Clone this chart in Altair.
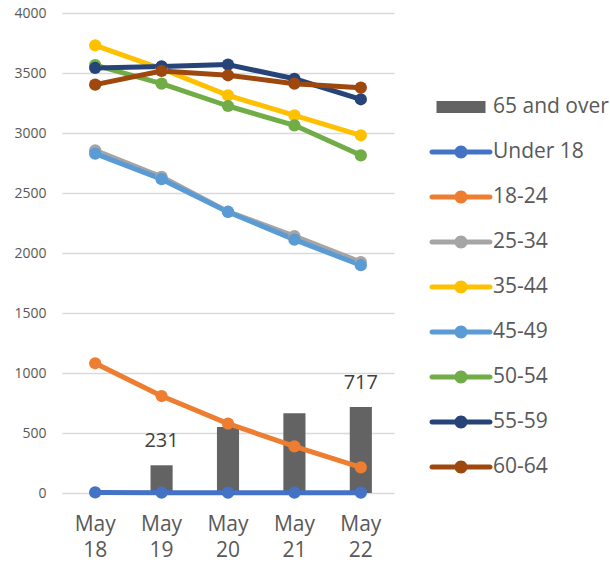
import altair as alt
import pandas as pd

dates = ["May 18", "May 19", "May 20", "May 21", "May 22"]
series = ["Under 18", "18-24", "25-34", "35-44", "45-49", "50-54", "55-59", "60-64"]
bar_series = "65 and over"

under18 = [5, 3, 3, 3, 3]
a18_24 = [1081, 808, 578, 389, 214]
a25_34 = [2856, 2635, 2345, 2140, 1925]
a35_44 = [3731, 3535, 3314, 3147, 2981]
a45_49 = [2828, 2615, 2342, 2111, 1898]
a50_54 = [3565, 3411, 3225, 3064, 2814]
a55_59 = [3542, 3555, 3570, 3452, 3281]
a60_64 = [3403, 3517, 3481, 3411, 3378]
over65 = [0, 231, 550, 665, 717]
bar_labels = ["", "231", "", "", "717"]

legend_order = [bar_series] + series
colors = ["#636363", "#4472C4", "#ED7D31", "#A5A5A5", "#FFC000",
          "#5B9BD5", "#70AD47", "#264478", "#9E480E"]

values = [under18, a18_24, a25_34, a35_44, a45_49, a50_54, a55_59, a60_64]
rows = []
for k, (s, vals) in enumerate(zip(series, values)):
    for d, v in zip(dates, vals):
        rows.append({"date": d, "series": s, "value": v, "k": k})
lines_df = pd.DataFrame(rows)
bars_df = pd.DataFrame({"date": dates, "series": bar_series, "value": over65, "lab": bar_labels})

rect_path = "M-1.225,-0.3L1.225,-0.3L1.225,0.3L-1.225,0.3Z"
line_path = ("M-1.45,-0.125L1.45,-0.125A0.125,0.125 0 0,1 1.45,0.125"
             "L-1.45,0.125A0.125,0.125 0 0,1 -1.45,-0.125Z"
             "M0.325,0A0.325,0.325 0 1,1 -0.325,0A0.325,0.325 0 1,1 0.325,0Z")
shapes = [rect_path] + [line_path] * len(series)

FONT = "Open Sans"

xenc = alt.X("date:N", sort=dates, title=None,
             scale=alt.Scale(paddingInner=0.667, paddingOuter=0.333),
             axis=alt.Axis(labelExpr="split(datum.label, ' ')", labelAngle=0,
                           labelFontSize=21, labelColor="#595959", labelFont=FONT,
                           labelLineHeight=26, labelPadding=20, ticks=False,
                           domain=False, grid=False, labelBaseline="top"))
yenc = alt.Y("value:Q", title=None,
             scale=alt.Scale(domain=[0, 4000]),
             axis=alt.Axis(values=list(range(0, 4001, 500)), format="d",
                           labelFontSize=14,
                           labelColor="#595959", labelFont=FONT, labelPadding=16,
                           ticks=False, domain=False, gridColor="#d9d9d9",
                           gridWidth=1.3))
cscale = alt.Scale(domain=legend_order, range=colors)

leg = alt.Legend(title=None, orient="none", legendX=379, legendY=74,
                 symbolSize=1600, symbolStrokeWidth=0, symbolOpacity=1,
                 symbolType=line_path,
                 labelFontSize=21, labelFont=FONT, labelColor="#595959",
                 labelOffset=12, rowPadding=15, padding=0)

legend_layer = alt.Chart(lines_df).transform_filter("false").mark_point(filled=True).encode(
    x=xenc, y=yenc,
    color=alt.Color("series:N", scale=cscale, legend=leg),
    shape=alt.Shape("series:N", scale=alt.Scale(domain=legend_order, range=shapes),
                    legend=leg))

bars = alt.Chart(bars_df).mark_bar().encode(
    x=alt.X("date:N", sort=dates), y="value:Q",
    color=alt.Color("series:N", scale=cscale))

text = alt.Chart(bars_df).mark_text(fontSize=20, font=FONT, color="#404040",
                                    baseline="bottom", dy=-14).encode(
    x=alt.X("date:N", sort=dates), y="value:Q", text="lab:N")

lines = alt.Chart(lines_df).mark_line(strokeWidth=5, strokeCap="round",
                                      strokeJoin="round").encode(
    x=alt.X("date:N", sort=dates), y="value:Q",
    color=alt.Color("series:N", scale=cscale),
    order="k:Q")

points = alt.Chart(lines_df).mark_circle(size=150, opacity=1).encode(
    x=alt.X("date:N", sort=dates), y="value:Q",
    color=alt.Color("series:N", scale=cscale),
    order="k:Q")

chart = alt.layer(legend_layer, bars, lines, points, text).properties(
    width=332, height=480,
    autosize=alt.AutoSizeParams(type="none"),
    padding={"left": 62, "top": 13, "right": 216, "bottom": 71},
).configure_view(stroke=None)

chart.save("out.html", embed_options={"renderer": "svg", "actions": False})
